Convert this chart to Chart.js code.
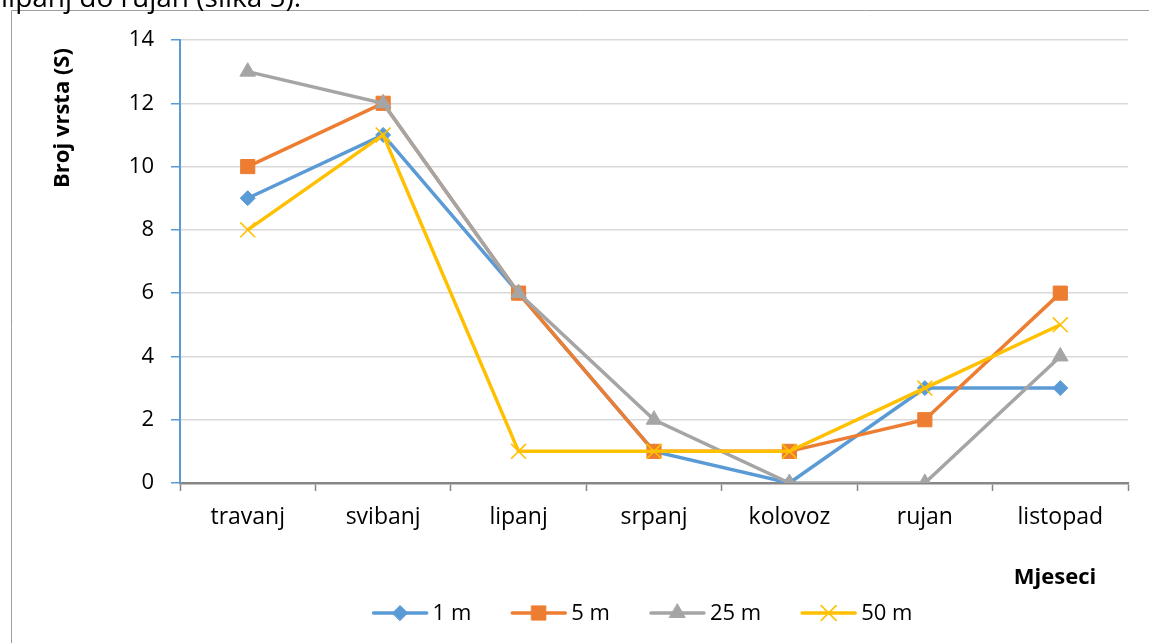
<!DOCTYPE html>
<html>
<head>
<meta charset="utf-8">
<script src="https://cdn.jsdelivr.net/npm/chart.js@4.4.1/dist/chart.umd.min.js"></script>
<style>
  html, body { margin: 0; padding: 0; background: #fff; }
  #wrap { position: relative; width: 1149px; height: 643px; }
  canvas { display: block; }
</style>
</head>
<body>
<div id="wrap"><canvas id="c" width="1149" height="643"></canvas></div>
<script>
const categories = ['travanj', 'svibanj', 'lipanj', 'srpanj', 'kolovoz', 'rujan', 'listopad'];
const seriesNames = ['1 m', '5 m', '25 m', '50 m'];
const s1m  = [9, 11, 6, 1, 0, 3, 3];
const s5m  = [10, 12, 6, 1, 1, 2, 6];
const s25m = [13, 12, 6, 2, 0, 0, 4];
const s50m = [8, 11, 1, 1, 1, 3, 5];
const yTicks = [0, 2, 4, 6, 8, 10, 12, 14];
const yTitle = 'Broj vrsta (S)';
const xTitle = 'Mjeseci';
const captionText = 'lipanj do rujan (slika 5).';

const FONT = "'Open Sans', 'DejaVu Sans', sans-serif";
const colors = ['#5B9BD5', '#ED7D31', '#A5A5A5', '#FFC000'];
const styles = [
  { pointStyle: 'rectRot', radius: 7.5, borderW: 1 },
  { pointStyle: 'rect', radius: 10, borderW: 1 },
  { pointStyle: 'triangle', radius: 9, borderW: 1 },
  { pointStyle: 'crossRot', radius: 10.5, borderW: 1.6 }
];
const seriesData = [s1m, s5m, s25m, s50m];

const datasets = seriesData.map((d, i) => ({
  label: seriesNames[i],
  data: d,
  borderColor: colors[i],
  backgroundColor: colors[i],
  borderWidth: 3.5,
  tension: 0,
  pointStyle: styles[i].pointStyle,
  pointRadius: styles[i].radius,
  pointHoverRadius: styles[i].radius,
  pointBorderWidth: styles[i].borderW,
  pointBorderColor: colors[i],
  pointBackgroundColor: colors[i],
  order: seriesData.length - i
}));

function drawMarker(ctx, style, color, x, y) {
  const r = style.radius;
  ctx.save();
  ctx.fillStyle = color; ctx.strokeStyle = color; ctx.lineWidth = style.borderW;
  ctx.beginPath();
  if (style.pointStyle === 'rectRot') {
    ctx.moveTo(x - r, y); ctx.lineTo(x, y - r); ctx.lineTo(x + r, y); ctx.lineTo(x, y + r); ctx.closePath();
    ctx.fill(); ctx.stroke();
  } else if (style.pointStyle === 'rect') {
    const s = Math.SQRT1_2 * r;
    ctx.rect(x - s, y - s, 2 * s, 2 * s); ctx.fill(); ctx.stroke();
  } else if (style.pointStyle === 'triangle') {
    ctx.moveTo(x, y - r);
    ctx.lineTo(x + r * Math.sin(2 * Math.PI / 3), y - r * Math.cos(2 * Math.PI / 3));
    ctx.lineTo(x - r * Math.sin(2 * Math.PI / 3), y - r * Math.cos(2 * Math.PI / 3));
    ctx.closePath(); ctx.fill(); ctx.stroke();
  } else if (style.pointStyle === 'crossRot') {
    const o = Math.SQRT1_2 * r;
    ctx.moveTo(x - o, y - o); ctx.lineTo(x + o, y + o);
    ctx.moveTo(x - o, y + o); ctx.lineTo(x + o, y - o);
    ctx.stroke();
  }
  ctx.restore();
}

const decorPlugin = {
  id: 'decor',
  afterDraw(chart) {
    const ctx = chart.ctx;
    ctx.save();
    // frame
    ctx.strokeStyle = '#9E9E9E';
    ctx.lineWidth = 1;
    ctx.beginPath();
    ctx.moveTo(11.5, 660); ctx.lineTo(11.5, 10.5); ctx.lineTo(1160, 10.5);
    ctx.stroke();
    // caption cut at top
    ctx.fillStyle = '#000';
    ctx.font = '28px ' + FONT;
    ctx.textAlign = 'left'; ctx.textBaseline = 'alphabetic';
    ctx.fillText(captionText, 1, 7);
    // y title
    ctx.save();
    ctx.translate(63, 118);
    ctx.rotate(-Math.PI / 2);
    ctx.font = 'bold 22px ' + FONT;
    ctx.textAlign = 'center'; ctx.textBaseline = 'middle';
    ctx.fillText(yTitle, 0, 0);
    ctx.restore();
    // x title
    ctx.font = 'bold 22px ' + FONT;
    ctx.textAlign = 'center'; ctx.textBaseline = 'middle';
    ctx.fillText(xTitle, 1055, 578);
    // legend
    ctx.font = '22px ' + FONT;
    const lineLen = 53, gapText = 6, gapItem = 41;
    const widths = seriesNames.map(n => ctx.measureText(n).width);
    let total = 0;
    widths.forEach((w, i) => { total += lineLen + gapText + w + (i < widths.length - 1 ? gapItem : 0); });
    let x = 643 - total / 2;
    const ly = 613;
    seriesNames.forEach((n, i) => {
      ctx.strokeStyle = colors[i]; ctx.lineWidth = 3.5; ctx.lineCap = 'round';
      ctx.beginPath(); ctx.moveTo(x, ly); ctx.lineTo(x + lineLen, ly); ctx.stroke();
      drawMarker(ctx, styles[i], colors[i], x + lineLen / 2, ly);
      ctx.fillStyle = '#000';
      ctx.textAlign = 'left'; ctx.textBaseline = 'middle';
      ctx.fillText(n, x + lineLen + gapText, ly + 1);
      x += lineLen + gapText + widths[i] + gapItem;
    });
    ctx.restore();
  }
};

new Chart(document.getElementById('c'), {
  type: 'line',
  data: { labels: categories, datasets },
  options: {
    responsive: false,
    animation: false,
    devicePixelRatio: 1,
    layout: { padding: { left: 0, right: 21, top: 40, bottom: 0 } },
    plugins: { legend: { display: false }, tooltip: { enabled: false } },
    scales: {
      x: {
        offset: true,
        grid: { offset: true, drawOnChartArea: false, drawTicks: true, tickLength: 8, tickColor: '#868686', tickWidth: 1.5 },
        border: { display: true, color: '#868686', width: 2.5 },
        ticks: { color: '#000', font: { family: FONT, size: 23 }, padding: 13, maxRotation: 0, autoSkip: false },
        afterFit(s) { s.height = 160; }
      },
      y: {
        min: 0, max: 14,
        afterBuildTicks(s) { s.ticks = yTicks.map(v => ({ value: v })); },
        grid: { color: '#D9D9D9', lineWidth: 1.5, drawTicks: true, tickLength: 9, tickColor: '#5B9BD5', tickWidth: 1.5 },
        border: { display: true, color: '#5B9BD5', width: 2 },
        ticks: { color: '#000', font: { family: FONT, size: 22 }, padding: 17 },
        afterFit(s) { s.width = 180; }
      }
    }
  },
  plugins: [decorPlugin]
});
</script>
</body>
</html>
